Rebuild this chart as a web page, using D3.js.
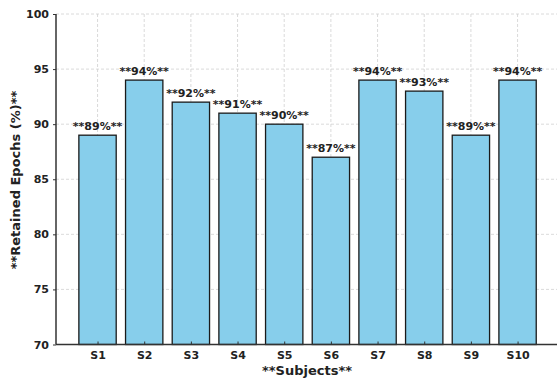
<!DOCTYPE html>
<html><head><meta charset="utf-8">
<script src="https://cdn.jsdelivr.net/npm/d3@7"></script>
<style>body{margin:0;background:#fff}svg{display:block}</style>
</head><body>
<script>
const categories = ["S1","S2","S3","S4","S5","S6","S7","S8","S9","S10"];
const values = [89,94,92,91,90,87,94,93,89,94];
const yTicks = [70,75,80,85,90,95,100];

const W = 557, H = 380;
const m = {left:56, top:14, bottom:344.5};
const svg = d3.select("body").append("svg").attr("width",W).attr("height",H);
const font = "'DejaVu Sans', sans-serif";

// x: linear in category index, matplotlib-like margins
const x = d3.scaleLinear().domain([-0.89, 9.89]).range([m.left, m.left + 10.78*46.67]);
const y = d3.scaleLinear().domain([70,100]).range([m.bottom, m.top]);
const bw = 0.8;

// grid
svg.append("g").selectAll("line.h").data(yTicks).join("line")
  .attr("x1", m.left).attr("x2", W).attr("y1", d=>y(d)).attr("y2", d=>y(d))
  .attr("stroke","#d0d0d0").attr("stroke-width",0.8).attr("stroke-dasharray","3,2");
svg.append("g").selectAll("line.v").data(categories).join("line")
  .attr("x1",(d,i)=>x(i)).attr("x2",(d,i)=>x(i)).attr("y1", m.top).attr("y2", m.bottom)
  .attr("stroke","#d0d0d0").attr("stroke-width",0.8).attr("stroke-dasharray","3,2");

// bars
svg.append("g").selectAll("rect").data(values).join("rect")
  .attr("x",(d,i)=>x(i-bw/2)).attr("width", x(bw)-x(0))
  .attr("y", d=>y(d)).attr("height", d=>y(70)-y(d))
  .attr("fill","#87CEEB").attr("stroke","#1a1a1a").attr("stroke-width",1.3);

// value labels
svg.append("g").selectAll("text").data(values).join("text")
  .attr("x",(d,i)=>x(i)).attr("y", d=>y(d)-5)
  .attr("text-anchor","middle").attr("font-family",font).attr("font-weight","bold")
  .attr("font-size",11).attr("fill","#222")
  .text(d=>"**"+d+"%**");

// axes
const yAxis = d3.axisLeft(y).tickValues(yTicks).tickSize(3).tickPadding(4);
const gy = svg.append("g").attr("transform",`translate(${m.left},0)`).call(yAxis);
const xAxis = d3.axisBottom(x).tickValues(d3.range(10)).tickFormat(i=>categories[i]).tickSize(-3).tickPadding(7);
const gx = svg.append("g").attr("transform",`translate(0,${m.bottom})`).call(xAxis);
[gx,gy].forEach(g=>{
  g.select(".domain").attr("stroke","#333").attr("stroke-width",1.5);
  g.selectAll(".tick line").attr("stroke","#333");
  g.selectAll("text").attr("font-family",font).attr("font-weight","bold").attr("font-size",11).attr("fill","#222");
});
gx.select(".domain").attr("d",`M${m.left},0H${W}`);
gy.select(".domain").attr("d",`M0,${m.top}V${m.bottom}`);

// axis titles
svg.append("text").attr("x",307).attr("y",375).attr("text-anchor","middle")
  .attr("font-family",font).attr("font-weight","bold").attr("font-size",13).attr("fill","#222")
  .text("**Subjects**");
svg.append("text").attr("transform","translate(20,180) rotate(-90)").attr("text-anchor","middle")
  .attr("font-family",font).attr("font-weight","bold").attr("font-size",13).attr("fill","#222")
  .text("**Retained Epochs (%)**");
</script>
</body></html>
